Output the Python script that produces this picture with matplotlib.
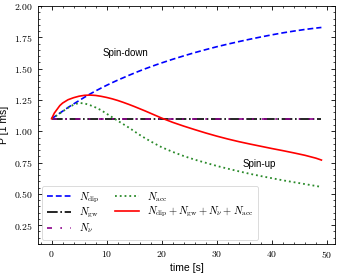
import matplotlib
matplotlib.use("Agg")
import matplotlib.pyplot as plt
from matplotlib.ticker import MultipleLocator, AutoMinorLocator, FuncFormatter

# period evolution [1 ms] vs time [s]
t = [0, 0.5, 1, 1.5, 2, 3, 4, 5, 6, 7, 8, 9, 10, 11, 12, 13, 14, 15, 16, 17, 18, 19,
     20, 22, 24, 26, 28, 30, 32, 34, 36, 38, 40, 42, 44, 46, 48, 49]
p_dip = [1.100, 1.115, 1.130, 1.145, 1.160, 1.190, 1.218, 1.245, 1.272, 1.298, 1.322,
         1.345, 1.367, 1.388, 1.408, 1.427, 1.446, 1.464, 1.482, 1.499, 1.515, 1.531,
         1.546, 1.575, 1.602, 1.628, 1.652, 1.675, 1.696, 1.716, 1.735, 1.753, 1.770,
         1.786, 1.800, 1.813, 1.824, 1.829]
p_gw = [1.100] * len(t)
p_nu = [1.100] * len(t)
p_acc = [1.100, 1.114, 1.128, 1.143, 1.158, 1.188, 1.212, 1.226, 1.222, 1.208, 1.190,
         1.168, 1.140, 1.112, 1.084, 1.057, 1.030, 1.000, 0.971, 0.944, 0.919, 0.895,
         0.872, 0.835, 0.802, 0.773, 0.748, 0.723, 0.701, 0.680, 0.660, 0.642, 0.625,
         0.608, 0.593, 0.578, 0.563, 0.555]
p_tot = [1.100, 1.145, 1.175, 1.205, 1.225, 1.252, 1.268, 1.280, 1.287, 1.289, 1.286,
         1.279, 1.270, 1.259, 1.246, 1.231, 1.215, 1.198, 1.180, 1.162, 1.143, 1.124,
         1.105, 1.071, 1.041, 1.013, 0.986, 0.961, 0.938, 0.917, 0.898, 0.880, 0.862,
         0.845, 0.827, 0.808, 0.785, 0.770]

plt.rcParams['mathtext.fontset'] = 'cm'
plt.rcParams['font.family'] = ['Liberation Sans', 'DejaVu Sans']

fig = plt.figure(figsize=(3.4, 2.75), dpi=100)
ax = fig.add_axes([0.112, 0.113, 0.873, 0.865])

ax.plot(t, p_dip, color='#0000ff', ls=(0, (3.5, 1.8)), lw=1.2, label=r'$N_{\rm dip}$')
ax.plot(t, p_gw, color='black', ls='-.', lw=1.2, label=r'$N_{\rm gw}$')
ax.plot(t, p_nu, color='#8b008b', ls=(0, (3, 5, 1, 5)), lw=1.2, label=r'$N_{\nu}$')
ax.plot(t, p_acc, color='#2a8a2a', ls=':', lw=1.3, label=r'$N_{\rm acc}$')
ax.plot(t, p_tot, color='red', ls='-', lw=1.2,
        label=r'$N_{\rm dip}+N_{\rm gw}+N_{\nu}+N_{\rm acc}$')

ax.text(13.5, 1.625, 'Spin-down', fontsize=7, ha='center', va='center')
ax.text(37.8, 0.735, 'Spin-up', fontsize=7, ha='center', va='center')

ax.set_xlim(-2.45, 51.45)
ax.set_ylim(0.1, 2.0)
ax.xaxis.set_major_locator(MultipleLocator(10))
ax.yaxis.set_major_locator(MultipleLocator(0.25))
ax.xaxis.set_minor_locator(AutoMinorLocator(5))
ax.yaxis.set_minor_locator(AutoMinorLocator(5))
ax.xaxis.set_major_formatter(FuncFormatter(lambda v, pos: r'$%d$' % v))
ax.yaxis.set_major_formatter(FuncFormatter(lambda v, pos: r'$%.2f$' % v))
ax.tick_params(which='both', direction='in', top=True, right=True, labelsize=7)
ax.tick_params(which='major', length=3, width=0.6)
ax.tick_params(which='minor', length=1.6, width=0.5)
for s in ax.spines.values():
    s.set_linewidth(0.6)

ax.set_xlabel('time [s]', fontsize=7.5, labelpad=2)
ax.set_ylabel('P [1 ms]', fontsize=7.5, labelpad=4)

leg = ax.legend(loc='lower left', ncol=2, fontsize=7.6, frameon=True,
                handlelength=2.3, handletextpad=0.8, columnspacing=1.4,
                labelspacing=0.12, borderaxespad=0.4, borderpad=0.4)
leg.get_frame().set_edgecolor('#cccccc')
leg.get_frame().set_linewidth(0.6)

fig.savefig('out.png', dpi=100)
